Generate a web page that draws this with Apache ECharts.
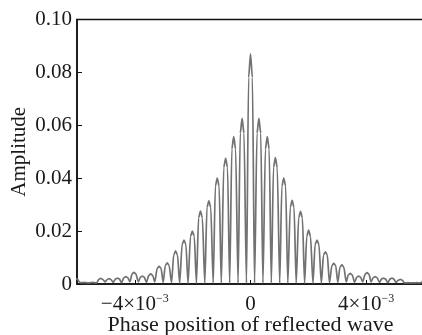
<!DOCTYPE html>
<html>
<head>
<meta charset="utf-8">
<script src="https://cdn.jsdelivr.net/npm/echarts@6/dist/echarts.min.js"></script>
<style>html,body{margin:0;padding:0;background:#fff}#c{width:422px;height:335px}</style>
</head>
<body>
<div id="c"></div>
<script>
// x positions in units of 1e-3 (phase position)
const peakX = [-6.04,-5.75,-5.46,-5.18,-4.89,-4.60,-4.31,-4.03,-3.74,-3.45,-3.16,-2.88,-2.59,-2.30,-2.01,-1.73,-1.44,-1.15,-0.86,-0.58,-0.29,0,0.29,0.58,0.86,1.15,1.44,1.73,2.01,2.30,2.59,2.88,3.16,3.45,3.74,4.03,4.31,4.60,4.89,5.18,5.46,5.75,6.04];
const peakY = [0.0020,0.0006,0.0006,0.0021,0.0020,0.0022,0.0028,0.0044,0.0030,0.0038,0.0067,0.0080,0.0125,0.0166,0.0200,0.0276,0.0314,0.0400,0.0475,0.0557,0.0626,0.0870,0.0626,0.0557,0.0478,0.0400,0.0316,0.0275,0.0204,0.0166,0.0122,0.0078,0.0072,0.0040,0.0030,0.0043,0.0028,0.0022,0.0022,0.0018,0.0005,0.0005,0.0015];
// level where each arch narrows into its tip
const shoulderY = [0.0017,0.0005,0.0005,0.0018,0.0017,0.0019,0.0024,0.0038,0.0026,0.0033,0.0060,0.0070,0.0110,0.0150,0.0180,0.0250,0.0290,0.0370,0.0440,0.0510,0.0570,0.0780,0.0570,0.0510,0.0440,0.0370,0.0290,0.0250,0.0180,0.0150,0.0110,0.0070,0.0064,0.0035,0.0026,0.0037,0.0024,0.0019,0.0019,0.0015,0.0004,0.0004,0.0013];
const troughX = [-5.90,-5.61,-5.32,-5.03,-4.75,-4.46,-4.17,-3.88,-3.60,-3.31,-3.02,-2.73,-2.45,-2.16,-1.87,-1.58,-1.29,-1.01,-0.72,-0.43,-0.14,0.14,0.43,0.72,1.01,1.29,1.58,1.87,2.16,2.45,2.73,3.02,3.31,3.60,3.88,4.17,4.46,4.75,5.03,5.32,5.61,5.90];
const troughY = [0.0005,0.0004,0.0004,0.0008,0.0006,0.0005,0.0008,0.0008,0.0006,0.0008,0.0006,0.0005,0.0003,0.0003,0.0003,0.0003,0.0003,0.0003,0.0003,0.0003,0.0003,0.0003,0.0003,0.0003,0.0003,0.0003,0.0003,0.0003,0.0003,0.0003,0.0005,0.0006,0.0008,0.0006,0.0008,0.0008,0.0006,0.0005,0.0006,0.0004,0.0004,0.0005];
const xTicks = [-4, 0, 4];

const tipHalf = 0.065; // half-width of each arch tip, in axis units
const data = [];
for (let i = 0; i < peakX.length; i++) {
  data.push([peakX[i] - tipHalf, shoulderY[i]]);
  data.push([peakX[i], peakY[i]]);
  data.push([peakX[i] + tipHalf, shoulderY[i]]);
  if (i < troughX.length) data.push([troughX[i], troughY[i]]);
}

const font = 'Liberation Serif';
const ink = '#1a1a1a';
const chart = echarts.init(document.getElementById('c'), null, {renderer: 'canvas'});
chart.setOption({
  animation: false,
  grid: {left: 77, right: -2, top: 19.5, bottom: 51, outerBoundsMode: 'none', containLabel: false, show: true, borderColor: '#111', borderWidth: 1.5, backgroundColor: 'transparent'},
  xAxis: {
    type: 'value', min: -6, max: 6,
    name: 'Phase position of reflected wave', nameLocation: 'middle', nameGap: 30, nameMoveOverlap: false,
    nameTextStyle: {fontFamily: font, fontSize: 22, color: ink, verticalAlign: 'top'},
    axisLine: {onZero: false, lineStyle: {color: '#111', width: 1.5}},
    axisTick: {inside: true, length: 4, customValues: xTicks, lineStyle: {color: '#111'}},
    splitLine: {show: false},
    axisLabel: {
      customValues: xTicks, margin: 9, fontFamily: font, fontSize: 21, color: ink,
      formatter: v => v === 0 ? '{a|0}' : '{a|' + (v < 0 ? '\u2212' : '') + Math.abs(v) + '×10}{s|\u22123}',
      rich: {a: {fontFamily: font, fontSize: 21, color: ink, lineHeight: 22}, s: {fontFamily: font, fontSize: 12, color: ink, verticalAlign: 'top', lineHeight: 12}}
    }
  },
  yAxis: {
    type: 'value', min: 0, max: 0.1, interval: 0.02,
    name: 'Amplitude', nameLocation: 'middle', nameGap: 47, nameMoveOverlap: false,
    nameTextStyle: {fontFamily: font, fontSize: 21, color: ink},
    axisLine: {show: true, onZero: false, lineStyle: {color: '#111', width: 1.5}},
    axisTick: {show: true, inside: true, length: 5, lineStyle: {color: '#111'}},
    splitLine: {show: false},
    axisLabel: {margin: 5, fontFamily: font, fontSize: 21, color: ink,
      formatter: v => v === 0 ? '0' : v.toFixed(2)}
  },
  series: [{
    type: 'line', data: data, showSymbol: false, smooth: 0.25, smoothMonotone: 'x',
    lineStyle: {color: '#727272', width: 1.7}, clip: true
  }]
});
</script>
</body>
</html>
